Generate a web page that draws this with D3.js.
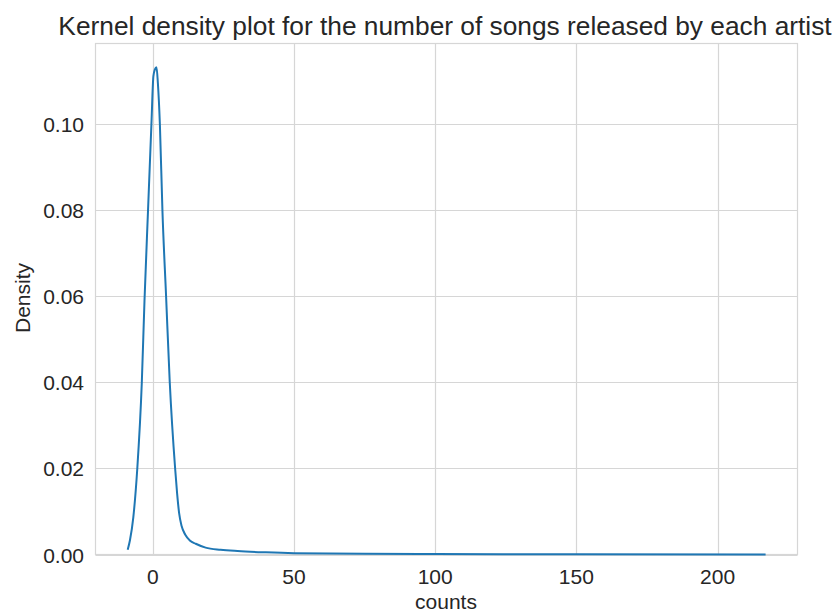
<!DOCTYPE html>
<html><head><meta charset="utf-8">
<script src="https://cdn.jsdelivr.net/npm/d3@7"></script>
<style>body{margin:0;background:#fff;} text{font-family:"Liberation Sans",Arial,sans-serif;fill:#262626;}</style>
</head><body><svg id="c" width="837" height="613"></svg>
<script>
const countsX = [-8.9,-8.1,-6.9,-5.5,-3.9,-2.95,-1.7,-0.5,0.2,0.75,1.3,1.8,2.5,3.4,4.7,6.0,7.9,8.6,9.3,10.2,11.5,13.2,15.2,18.7,24,30,40,50,75,100,150,217];
const density = [0.0011,0.0033,0.0087,0.020,0.040,0.059,0.080,0.100,0.1112,0.1128,0.1133,0.1095,0.100,0.080,0.060,0.040,0.020,0.0142,0.0097,0.0066,0.0046,0.0032,0.0025,0.0016,0.0011,0.0008,0.0005,0.0003,0.00015,0.0001,0.00005,0.00002];
const xTicks = [0,50,100,150,200];
const yTicks = [0,0.02,0.04,0.06,0.08,0.10];

const svg = d3.select("#c");
const L=95.5,R=797.5,T=43.5,B=554.5;
const x = d3.scaleLinear().domain([-20.3,228.3]).range([L,R]);
const y = d3.scaleLinear().domain([0,0.1188]).range([B,T]);

const g = svg.append("g");
g.selectAll(".gx").data(xTicks).enter().append("line")
 .attr("x1",d=>Math.round(x(d))+0.5).attr("x2",d=>Math.round(x(d))+0.5).attr("y1",T).attr("y2",B)
 .attr("stroke","#d6d6d6").attr("stroke-width",1.2);
g.selectAll(".gy").data(yTicks).enter().append("line")
 .attr("y1",d=>Math.round(y(d))+0.5).attr("y2",d=>Math.round(y(d))+0.5).attr("x1",L).attr("x2",R)
 .attr("stroke","#d6d6d6").attr("stroke-width",1.2);
g.append("rect").attr("x",L).attr("y",T).attr("width",R-L).attr("height",B-T)
 .attr("fill","none").attr("stroke","#d6d6d6").attr("stroke-width",1.2);

const pts = countsX.map((v,i)=>[v,density[i]]);
g.append("path").datum(pts)
 .attr("d",d3.line().x(d=>x(d[0])).y(d=>y(d[1])).curve(d3.curveMonotoneX))
 .attr("fill","none").attr("stroke","#1f77b4").attr("stroke-width",2);

g.selectAll(".tx").data(xTicks).enter().append("text")
 .attr("x",d=>x(d)).attr("y",584).attr("text-anchor","middle").attr("font-size",21).text(d=>d);
g.selectAll(".ty").data(yTicks).enter().append("text")
 .attr("x",84).attr("y",d=>y(d)+8).attr("text-anchor","end").attr("font-size",21).text(d=>d3.format(".2f")(d));

svg.append("text").attr("x",446).attr("y",609).attr("text-anchor","middle").attr("font-size",21).text("counts");
svg.append("text").attr("transform","translate(30,298) rotate(-90)").attr("text-anchor","middle").attr("font-size",21).text("Density");
svg.append("text").attr("x",445).attr("y",35).attr("text-anchor","middle").attr("font-size",26.3).text("Kernel density plot for the number of songs released by each artist");
</script></body></html>
